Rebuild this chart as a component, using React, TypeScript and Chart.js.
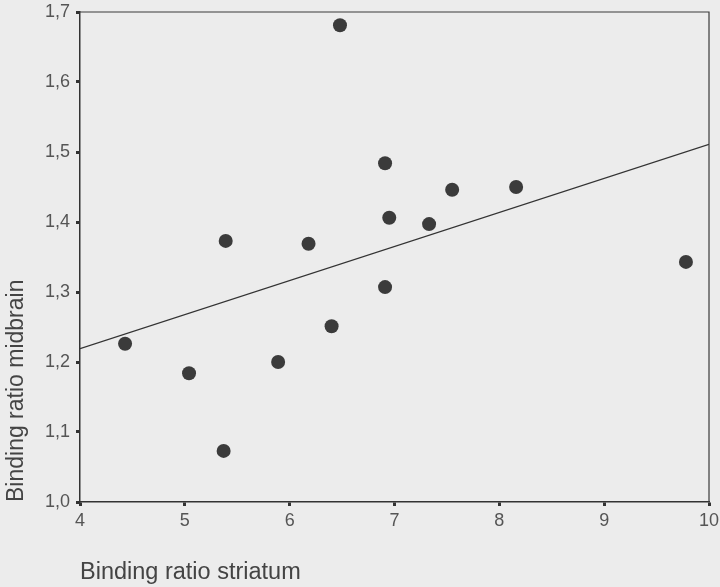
import React, { useEffect, useRef } from "react";
import { Chart, registerables } from "chart.js";

Chart.register(...registerables);

// Data
const striatum = [4.43, 5.04, 5.37, 5.39, 6.48, 6.91, 7.55, 8.16, 6.95, 7.33, 6.18, 6.91, 6.40, 5.89, 9.78];
const midbrain = [1.226, 1.184, 1.073, 1.373, 1.681, 1.484, 1.446, 1.45, 1.406, 1.397, 1.369, 1.307, 1.251, 1.2, 1.343];
const fitX = [4, 10];
const fitY = [1.219, 1.511];
const xTickLabels = ["4", "5", "6", "7", "8", "9", "10"];
const yTickLabels = ["1,0", "1,1", "1,2", "1,3", "1,4", "1,5", "1,6", "1,7"];

const FONT = "'Liberation Sans', Arial, Helvetica, sans-serif";
const BG = "#ececec";

const bgPlugin = {
  id: "bgAndBox",
  beforeDraw(chart: any) {
    const ctx = chart.ctx;
    ctx.save();
    ctx.fillStyle = BG;
    ctx.fillRect(0, 0, chart.width, chart.height);
    ctx.restore();
  },
  afterDraw(chart: any) {
    const { left, right, top, bottom } = chart.chartArea;
    const ctx = chart.ctx;
    ctx.save();
    ctx.strokeStyle = "#3a3a3a";
    ctx.lineWidth = 1.2;
    ctx.beginPath();
    ctx.moveTo(left, top);
    ctx.lineTo(right, top);
    ctx.lineTo(right, bottom);
    ctx.stroke();
    ctx.restore();
  },
};

export default function App() {
  const ref = useRef<HTMLCanvasElement | null>(null);

  useEffect(() => {
    document.body.style.margin = "0";
    document.body.style.background = BG;
    const canvas = ref.current;
    if (!canvas) return;
    const points = striatum.map((x, i) => ({ x, y: midbrain[i] }));
    const fit = fitX.map((x, i) => ({ x, y: fitY[i] }));
    const chart = new Chart(canvas, {
      type: "scatter",
      data: {
        datasets: [
          {
            type: "line",
            label: "fit",
            data: fit,
            borderColor: "#333333",
            borderWidth: 1.4,
            pointRadius: 0,
            fill: false,
          },
          {
            label: "subjects",
            data: points,
            backgroundColor: "#3b3b3b",
            borderWidth: 0,
            pointRadius: 7,
          },
        ],
      },
      plugins: [bgPlugin],
      options: {
        responsive: false,
        animation: false,
        devicePixelRatio: 1,
        layout: { padding: { left: 0, right: 11, top: 12, bottom: 0 } },
        plugins: { legend: { display: false }, tooltip: { enabled: false } },
        scales: {
          x: {
            type: "linear",
            min: 4,
            max: 10,
            afterFit: (s: any) => {
              s.height = 85;
              s.paddingLeft = 0;
              s.paddingRight = 0;
            },
            ticks: {
              stepSize: 1,
              color: "#555555",
              font: { family: FONT, size: 18 },
              padding: 4,
              maxRotation: 0,
              callback: (_v: any, i: number) => xTickLabels[i],
            },
            grid: {
              drawOnChartArea: false,
              drawTicks: true,
              tickLength: 4,
              tickWidth: 3,
              tickColor: "#333333",
            },
            border: { display: true, color: "#333333", width: 1.5 },
            title: {
              display: true,
              text: "Binding ratio striatum",
              align: "start",
              color: "#444444",
              font: { family: FONT, size: 23.5 },
              padding: { top: 0, bottom: 0 },
            },
          },
          y: {
            type: "linear",
            min: 1.0,
            max: 1.7,
            afterFit: (s: any) => {
              s.width = 80;
              s.paddingTop = 0;
              s.paddingBottom = 0;
            },
            ticks: {
              stepSize: 0.1,
              color: "#555555",
              font: { family: FONT, size: 18 },
              padding: 6,
              callback: (_v: any, i: number) => yTickLabels[i],
            },
            grid: {
              drawOnChartArea: false,
              drawTicks: true,
              tickLength: 4,
              tickWidth: 3,
              tickColor: "#333333",
            },
            border: { display: true, color: "#333333", width: 1.5 },
            title: {
              display: true,
              text: "Binding ratio midbrain",
              align: "start",
              color: "#444444",
              font: { family: FONT, size: 23 },
              padding: { top: 3, bottom: 0 },
            },
          },
        },
      },
    } as any);
    return () => chart.destroy();
  }, []);

  return (
    <div style={{ width: 720, height: 587, background: BG }}>
      <canvas ref={ref} width={720} height={587} style={{ display: "block" }} />
    </div>
  );
}
